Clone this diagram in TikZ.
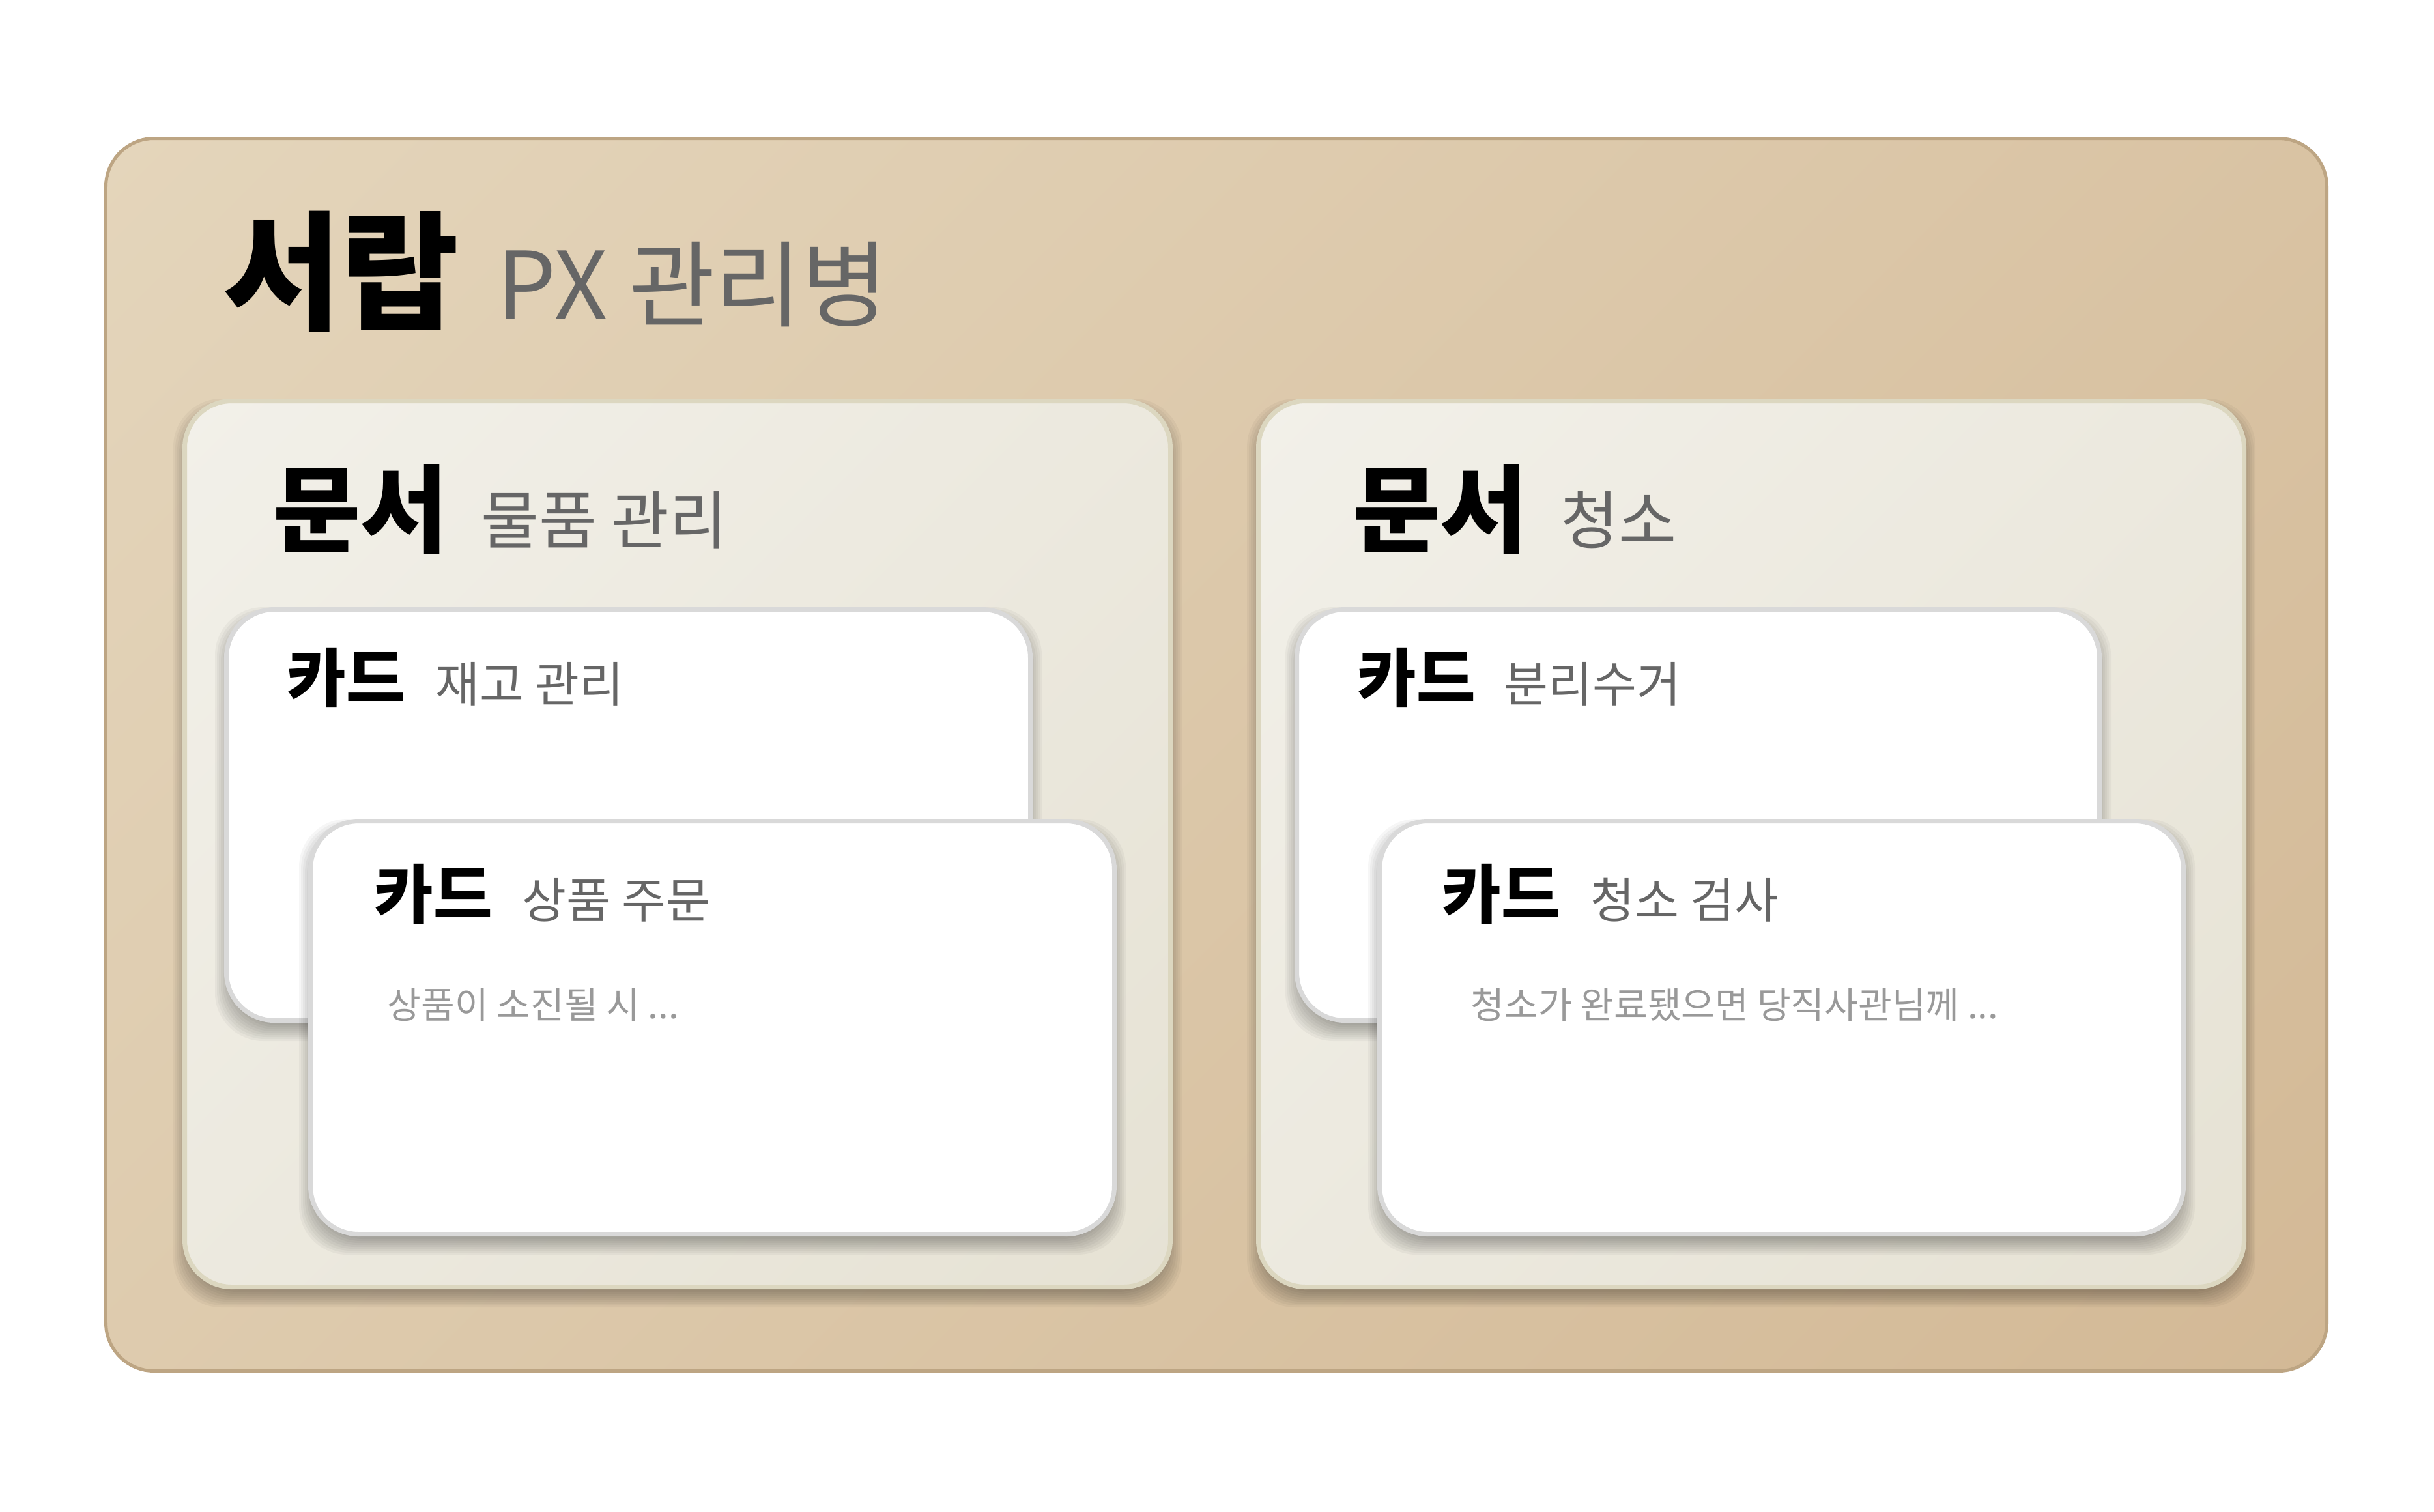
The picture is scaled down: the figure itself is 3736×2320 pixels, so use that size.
\documentclass[tikz,border=0pt]{standalone}
\usepackage{fontspec}
\setmainfont{Noto Sans CJK KR}
\definecolor{outerA}{HTML}{E4D5BB}
\definecolor{outerC}{HTML}{D3B996}
\definecolor{outerB}{HTML}{BDA583}
\definecolor{docA}{HTML}{F2F0E9}
\definecolor{docC}{HTML}{E6E2D4}
\definecolor{docB}{HTML}{DCD7C0}
\definecolor{cardB}{HTML}{D9D9D9}
\definecolor{subG}{HTML}{666666}
\definecolor{descG}{HTML}{999999}
\pgfdeclareverticalshading{outerdiag}{100bp}{color(0bp)=(outerC); color(14.6bp)=(outerC); color(85.4bp)=(outerA); color(100bp)=(outerA)}
\pgfdeclareverticalshading{docdiag}{100bp}{color(0bp)=(docC); color(14.6bp)=(docC); color(85.4bp)=(docA); color(100bp)=(docA)}
\newcommand\fTitle{\fontsize{56}{60}\selectfont\bfseries}
\newcommand\fTitleSub{\fontsize{41}{44}\selectfont}
\newcommand\fDoc{\fontsize{41.5}{46}\selectfont\bfseries}
\newcommand\fDocSub{\fontsize{27.5}{30}\selectfont}
\newcommand\fCard{\fontsize{28}{31}\selectfont\bfseries}
\newcommand\fCardSub{\fontsize{21}{24}\selectfont}
\newcommand\fDesc{\fontsize{16}{19}\selectfont}
% soft shadow: x1 y1 x2 y2
\newcommand\softshadow[4]{%
  \foreach \k in {0,...,9}{%
    \fill[black, opacity=0.037, rounded corners=0.74cm]
      ({#1-14+3*\k},{#2+14-14+3*\k}) rectangle ({#3+14-3*\k},{#4+14+14-3*\k});
  }}
\begin{document}
\begin{tikzpicture}[x=0.01cm,y=-0.01cm,
  outerbox/.style={line width=1.42pt, draw=outerB, shading=outerdiag, shading angle=45, rounded corners=0.74cm},
  docbox/.style={line width=2pt, draw=docB, shading=docdiag, shading angle=45, rounded corners=0.72cm},
  cardbox/.style={line width=2pt, draw=cardB, fill=white, rounded corners=0.74cm},
  txt/.style={anchor=base west, inner sep=0pt},
  title/.style={txt, font=\fTitle, text=black},
  titlesub/.style={txt, font=\fTitleSub, text=subG},
  doctitle/.style={txt, font=\fDoc, text=black},
  docsub/.style={txt, font=\fDocSub, text=subG},
  cardtitle/.style={txt, font=\fCard, text=black},
  cardsub/.style={txt, font=\fCardSub, text=subG},
  desc/.style={txt, font=\fDesc, text=descG}]
\useasboundingbox (0,0) rectangle (3736,2320);
\fill[white] (0,0) rectangle (3736,2320);

% drawer
\draw[outerbox] (162.5,212.5) rectangle (3571.5,2104.5);
\node[title] (drawer) at (342,490) {서랍};
\node[titlesub] (drawersub) at (762,490) {PX 관리병};

% left document
\softshadow{280}{612}{1800}{1979}
\draw[docbox] (283.5,615.5) rectangle (1796.5,1975.5);
\node[doctitle] (docL) at (419,836) {문서};
\node[docsub] (docLsub) at (738,834) {물품 관리};

\softshadow{344}{932}{1585}{1570}
\draw[cardbox] (347.5,935.5) rectangle (1581.5,1566.5);
\node[cardtitle] (cardL1) at (440,1077) {카드};
\node[cardsub] (cardL1sub) at (668,1077) {재고 관리};

\softshadow{473}{1257}{1714}{1898}
\draw[cardbox] (476.5,1260.5) rectangle (1710.5,1894.5);
\node[cardtitle] (cardL2) at (574,1409) {카드};
\node[cardsub] (cardL2sub) at (801,1409) {상품 주문};
\node[desc] (descL2) at (594,1563) {상품이 소진될 시 ...};

% right document
\softshadow{1928}{612}{3448}{1979}
\draw[docbox] (1931.5,615.5) rectangle (3444.5,1975.5);
\node[doctitle] (docR) at (2076,836) {문서};
\node[docsub] (docRsub) at (2395,834) {청소};

\softshadow{1987}{932}{3226}{1570}
\draw[cardbox] (1990.5,935.5) rectangle (3222.5,1566.5);
\node[cardtitle] (cardR1) at (2083,1077) {카드};
\node[cardsub] (cardR1sub) at (2308,1077) {분리수거};

\softshadow{2114}{1257}{3355}{1898}
\draw[cardbox] (2117.5,1260.5) rectangle (3351.5,1894.5);
\node[cardtitle] (cardR2) at (2213,1409) {카드};
\node[cardsub] (cardR2sub) at (2441,1409) {청소 검사};
\node[desc] (descR2) at (2257,1563) {청소가 완료됐으면 당직사관님께 ...};
\end{tikzpicture}
\end{document}
